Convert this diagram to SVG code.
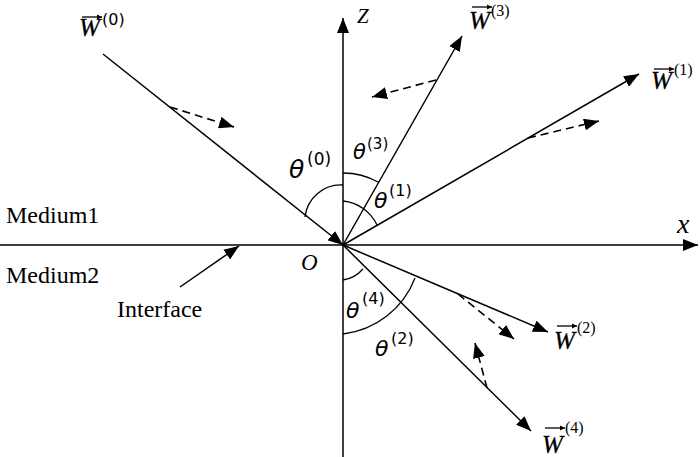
<svg xmlns="http://www.w3.org/2000/svg" width="700" height="457" viewBox="0 0 700 457">
<defs>
<marker id="ah" markerUnits="userSpaceOnUse" markerWidth="16" markerHeight="12" refX="15" refY="6" orient="auto">
<path d="M0,0 L15,6 L0,12 Z" fill="#000"/>
</marker>
<marker id="sh" markerUnits="userSpaceOnUse" markerWidth="6" markerHeight="6" refX="5" refY="3" orient="auto">
<path d="M0,0.5 L5,3 L0,5.5 Z" fill="#000"/>
</marker>
<style>
.ln{stroke:#000;stroke-width:1.5;fill:none}
.ds{stroke:#000;stroke-width:1.6;fill:none;stroke-dasharray:8,5}
.arc{stroke:#000;stroke-width:1.3;fill:none}
.ov{stroke:#000;stroke-width:1.3;fill:none}
.w{font-family:"Liberation Serif",serif;font-style:italic;font-size:25px;fill:#000;stroke:#000;stroke-width:0.3}
.sup{font-family:"Liberation Serif",serif;font-size:16px;fill:#000}
.th{font-family:"DejaVu Sans",sans-serif;font-style:oblique;fill:#000}
.ths{font-family:"DejaVu Sans",sans-serif;fill:#000}
.lab{font-family:"Liberation Serif",serif;font-size:24px;fill:#000}
.ax{font-family:"Liberation Serif",serif;font-style:italic;fill:#000}
</style>
</defs>
<rect width="700" height="457" fill="#fff"/>
<g id="connectors">
<line class="ln" x1="0" y1="245" x2="698" y2="245" marker-end="url(#ah)"/>
<line class="ln" x1="343" y1="457" x2="343" y2="18" marker-end="url(#ah)"/>
<line class="ln" x1="103" y1="54" x2="343" y2="245" marker-end="url(#ah)"/>
<line class="ln" x1="343" y1="245" x2="462" y2="36" marker-end="url(#ah)"/>
<line class="ln" x1="343" y1="245" x2="639" y2="74" marker-end="url(#ah)"/>
<line class="ln" x1="343" y1="245" x2="548" y2="332" marker-end="url(#ah)"/>
<line class="ln" x1="343" y1="245" x2="531" y2="431" marker-end="url(#ah)"/>
<line class="ds" x1="170" y1="107" x2="234" y2="127" marker-end="url(#ah)"/>
<line class="ds" x1="436" y1="80" x2="372" y2="97" marker-end="url(#ah)"/>
<line class="ds" x1="528" y1="138" x2="599" y2="121" marker-end="url(#ah)"/>
<line class="ds" x1="458" y1="294" x2="514" y2="339" marker-end="url(#ah)"/>
<line class="ds" x1="487" y1="388" x2="475" y2="343" marker-end="url(#ah)"/>
<line class="ln" x1="180" y1="287" x2="239" y2="246" marker-end="url(#ah)"/>
<path class="arc" d="M305,217 A36,36 0 0 1 343,185"/>
<path class="arc" d="M343,173 A72,72 0 0 1 378,182"/>
<path class="arc" d="M343,201 A42,42 0 0 1 377,225"/>
<path class="arc" d="M343,280 A34,34 0 0 0 363,269"/>
<path class="arc" d="M343,334 A88,88 0 0 0 415,278"/>
</g>
<g id="labels">
<text class="lab" x="6" y="223">Medium1</text>
<text class="lab" x="6" y="283">Medium2</text>
<text class="lab" x="117" y="317">Interface</text>
<text class="ax" x="301" y="270" font-size="23">O</text>
<text class="ax" x="357" y="23" font-size="21">Z</text>
<text class="ax" x="677" y="233" font-size="28">x</text>
</g>
<g id="W0">
<text class="w" x="79" y="36">W</text>
<line class="ov" x1="82" y1="17" x2="102" y2="17" marker-end="url(#sh)"/>
<text class="ths" x="102" y="25" font-size="16">(0)</text>
</g>
<g id="W3">
<text class="w" x="469" y="29">W</text>
<line class="ov" x1="472" y1="7" x2="492" y2="7" marker-end="url(#sh)"/>
<text class="sup" x="491" y="16">(3)</text>
</g>
<g id="W1">
<text class="w" x="651" y="89">W</text>
<line class="ov" x1="654" y1="69" x2="674" y2="69" marker-end="url(#sh)"/>
<text class="sup" x="674" y="75">(1)</text>
</g>
<g id="W2">
<text class="w" x="554" y="349">W</text>
<line class="ov" x1="557" y1="326" x2="577" y2="326" marker-end="url(#sh)"/>
<text class="sup" x="577" y="333">(2)</text>
</g>
<g id="W4">
<text class="w" x="542" y="453">W</text>
<line class="ov" x1="545" y1="428" x2="565" y2="428" marker-end="url(#sh)"/>
<text class="sup" x="565" y="433">(4)</text>
</g>
<g id="theta0">
<text class="th" x="289" y="178" font-size="25">θ</text>
<text class="ths" x="307" y="165" font-size="17">(0)</text>
</g>
<g id="theta3">
<text class="th" x="353" y="159" font-size="21">θ</text>
<text class="ths" x="367" y="149" font-size="15">(3)</text>
</g>
<g id="theta1">
<text class="th" x="374" y="208" font-size="22">θ</text>
<text class="ths" x="389" y="196" font-size="16">(1)</text>
</g>
<g id="theta4">
<text class="th" x="346" y="318" font-size="22">θ</text>
<text class="ths" x="362" y="304" font-size="16">(4)</text>
</g>
<g id="theta2">
<text class="th" x="375" y="356" font-size="22">θ</text>
<text class="ths" x="391" y="344" font-size="16">(2)</text>
</g>
</svg>
